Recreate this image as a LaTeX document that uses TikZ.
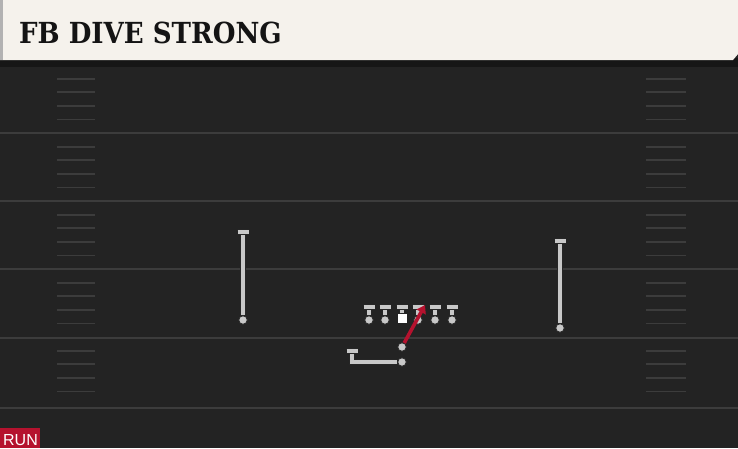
\documentclass[tikz,border=0pt]{standalone}
\usepackage{fontspec}
\newfontfamily\titlefont{DejaVu Serif Condensed}
\newfontfamily\tagfont{Liberation Sans}
\usepackage{tikz}
\usetikzlibrary{arrows.meta, positioning, calc}

\begin{document}
\begin{tikzpicture}[x=1pt, y=-1pt]

% ------------------------
% Colors
% ------------------------
\definecolor{colField}{RGB}{35,35,35}
\definecolor{colLine}{RGB}{60,60,60}
\definecolor{colHead}{RGB}{245,242,236}
\definecolor{colShade}{RGB}{22,22,22}
\definecolor{colRoute}{RGB}{200,200,200}
\definecolor{colRun}{RGB}{181,18,46}

\tikzset{
  route/.style={draw=colRoute, line width=3.8pt, preaction={draw=black!85, line width=5.4pt}},
  blockbar/.style={draw=colRoute, line width=3.6pt, preaction={draw=black!85, line width=5.2pt}},
  player/.style={circle, fill=colRoute, draw=black!85, line width=0.8pt, minimum size=8.5pt, inner sep=0pt},
  centre/.style={rectangle, fill=white, minimum width=9pt, minimum height=9pt, inner sep=0pt},
  runpath/.style={draw=colRun, line width=3.6pt, -{Triangle[length=8pt, width=10pt]}}
}

% Size of the block bar (half width)
\def\bw{5.5}

\useasboundingbox (0,0) rectangle (738,448);

% ------------------------
% FIELD
% ------------------------
\fill[colField] (0,0) rectangle (738,448);
\fill[colShade] (0,58) rectangle (738,67);
\foreach \y in {133,201,269,338,408} {
    \draw[colLine, line width=2pt] (0,\y) -- (738,\y);
}
% hash marks
\foreach \k in {0,...,4} {
    \foreach \m in {1,...,4} {
        \draw[colLine, line width=1.8pt] (57, 65+68*\k+13.6*\m) -- (95, 65+68*\k+13.6*\m);
        \draw[colLine, line width=1.8pt] (646, 65+68*\k+13.6*\m) -- (686, 65+68*\k+13.6*\m);
    }
}

% ------------------------
% HEADER
% ------------------------
\fill[colHead] (0,0) -- (738,0) -- (738,54) -- (733,60) -- (0,60) -- cycle;
\fill[black!30] (0,0) rectangle (3,60);
\node[anchor=base west, inner sep=0pt, font=\titlefont\bfseries\fontsize{29}{29}\selectfont, text=black!92] (title) at (19,43) {FB DIVE STRONG};

% ------------------------
% LINE: tackles, guards, centre, tight end
% ------------------------
\foreach \x [count=\i] in {369,385,418,435,452} {
    \coordinate (ol\i top) at (\x,307);
    \node[player] (ol\i) at (\x,320) {};
    \draw[route] (ol\i) -- (ol\i top);
    \draw[blockbar] ($(ol\i top)+(-\bw,0)$) -- ($(ol\i top)+(\bw,0)$);
}
\coordinate (ctop) at (402,307);
\node[centre] (c) at (402,318) {};
\draw[route] (c) -- (ctop);
\draw[blockbar] ($(ctop)+(-\bw,0)$) -- ($(ctop)+(\bw,0)$);

% ------------------------
% RECEIVERS
% ------------------------
\coordinate (wrltop) at (243,232);
\node[player] (wrl) at (243,320) {};
\draw[route] (wrl) -- (wrltop);
\draw[blockbar] ($(wrltop)+(-\bw,0)$) -- ($(wrltop)+(\bw,0)$);

\coordinate (wrrtop) at (560,241);
\node[player] (wrr) at (560,328) {};
\draw[route] (wrr) -- (wrrtop);
\draw[blockbar] ($(wrrtop)+(-\bw,0)$) -- ($(wrrtop)+(\bw,0)$);

% ------------------------
% BACKFIELD
% ------------------------
\coordinate (qbturn) at (352,362);
\coordinate (qbtop) at (352,351);
\node[player] (qb) at (402,362) {};
\draw[route] (qb) -- (qbturn) -- (qbtop);
\draw[blockbar] ($(qbtop)+(-\bw,0)$) -- ($(qbtop)+(\bw,0)$);

\coordinate (fbend) at (425,305);
\node[player] (fb) at (402,347) {};
\draw[runpath] (fb) -- (fbend);

% ------------------------
% TAG
% ------------------------
\fill[colRun] (0,428) rectangle (40,448);
\node[anchor=base, inner sep=0pt, text=white, font=\tagfont\fontsize{16}{16}\selectfont] (tag) at (20.5,445) {RUN};

\end{tikzpicture}
\end{document}
